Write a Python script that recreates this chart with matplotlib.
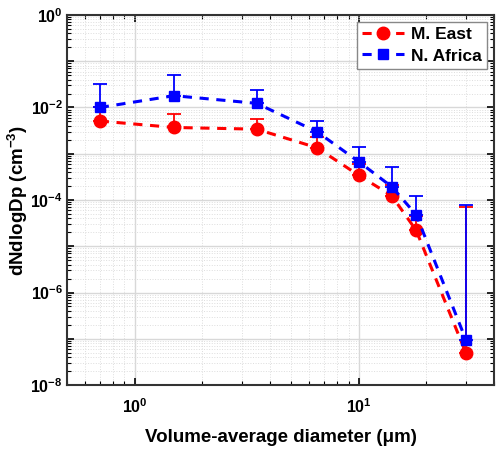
import matplotlib
matplotlib.use("Agg")
import matplotlib.pyplot as plt
import numpy as np
from matplotlib.ticker import LogLocator, NullFormatter

plt.rcParams['font.family'] = ['Liberation Sans', 'DejaVu Sans']
plt.rcParams['mathtext.fontset'] = 'custom'
plt.rcParams['mathtext.rm'] = 'Liberation Sans'
plt.rcParams['mathtext.bf'] = 'Liberation Sans:bold'
plt.rcParams['mathtext.it'] = 'Liberation Sans:italic'

diameter = [0.7, 1.5, 3.5, 6.5, 10, 14, 18, 30]
me_vals = [5.1e-3, 3.7e-3, 3.4e-3, 1.35e-3, 3.4e-4, 1.24e-4, 2.2e-5, 4.9e-8]
me_upper = [1.0e-2, 7.4e-3, 5.6e-3, 2.3e-3, 6.0e-4, 2.1e-4, 4.5e-5, 7.2e-5]
na_vals = [1.0e-2, 1.8e-2, 1.23e-2, 3.0e-3, 6.7e-4, 1.94e-4, 4.8e-5, 9.4e-8]
na_upper = [3.27e-2, 5.0e-2, 2.36e-2, 5.2e-3, 1.42e-3, 5.3e-4, 1.22e-4, 7.8e-5]

fig = plt.figure(figsize=(5, 4.5), dpi=100)
ax = fig.add_axes([0.134, 0.1444, 0.854, 0.8223])

for vals, upper, color, marker, ms, label, z in [
    (me_vals, me_upper, 'red', 'o', 9, 'M. East', 3),
    (na_vals, na_upper, 'blue', 's', 7.5, 'N. Africa', 4),
]:
    vals = np.array(vals)
    err = np.array(upper) - vals
    ax.errorbar(diameter, vals, yerr=[np.zeros_like(vals), err], color=color,
                ecolor=color, elinewidth=1.3, capsize=5, capthick=1.3,
                linestyle='none', marker='none', zorder=z)
    ax.plot(diameter, vals, color=color, linestyle=(0, (3, 2.5)), linewidth=2.2,
            marker=marker, markersize=ms, label=label, zorder=z + 0.5)

ax.set_xscale('log')
ax.set_yscale('log')
ax.set_xlim(0.5, 40)
ax.set_ylim(1e-8, 1)

ax.set_yticks([10.0**k for k in range(-8, 1)])
ax.set_yticklabels([r'$\mathbf{10^{%d}}$' % k if k % 2 == 0 else '' for k in range(-8, 1)])
ax.yaxis.set_minor_locator(LogLocator(base=10, subs=np.arange(2, 10), numticks=20))
ax.yaxis.set_minor_formatter(NullFormatter())
ax.set_xticks([1, 10])
ax.set_xticklabels([r'$\mathbf{10^{0}}$', r'$\mathbf{10^{1}}$'])
ax.xaxis.set_minor_locator(LogLocator(base=10, subs=np.arange(2, 10), numticks=20))
ax.xaxis.set_minor_formatter(NullFormatter())

ax.grid(True, which='major', color='#d8d8d8', linewidth=1.0)
ax.grid(True, which='minor', color='#dddddd', linewidth=0.7, linestyle=':')
ax.set_axisbelow(True)

ax.tick_params(which='both', direction='in', top=True, right=True, labelsize=11.5)
ax.tick_params(which='major', length=5, width=1.2)
ax.tick_params(which='minor', length=3, width=0.8)
ax.tick_params(axis='x', which='major', pad=9)
ax.tick_params(axis='y', which='major', pad=3)
for s in ax.spines.values():
    s.set_linewidth(1.5)
    s.set_color('#333333')

ax.set_xlabel('Volume-average diameter (μm)', fontsize=13.5, fontweight='bold', labelpad=9)
ax.set_ylabel(r'dNdlogDp (cm$^{\mathbf{-3}}$)', fontsize=13.5, fontweight='bold', labelpad=0)

leg = ax.legend(loc='upper right', prop={'weight': 'bold', 'size': 12.5},
                fancybox=False, edgecolor='#888888', framealpha=1,
                handlelength=2.4, borderaxespad=0.4, borderpad=0.3,
                labelspacing=0.35, handletextpad=0.4)
leg.get_frame().set_linewidth(1.0)

fig.savefig('out.png', dpi=100)
